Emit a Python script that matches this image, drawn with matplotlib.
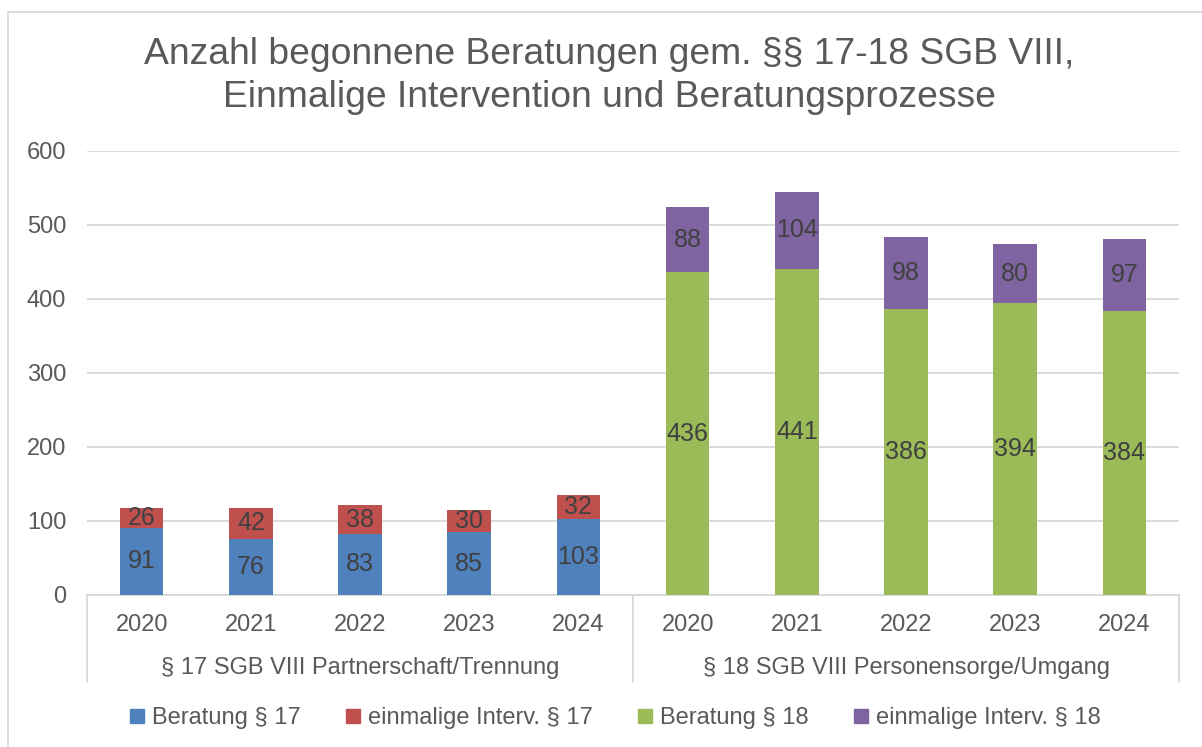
import matplotlib
matplotlib.use("Agg")
import matplotlib.pyplot as plt
from matplotlib.lines import Line2D
import matplotlib.transforms as mtransforms

plt.rcParams['font.family'] = ['Liberation Sans', 'DejaVu Sans']

# data
years = ["2020", "2021", "2022", "2023", "2024"]
groups = ["§ 17 SGB VIII Partnerschaft/Trennung", "§ 18 SGB VIII Personensorge/Umgang"]
beratung17 = [91, 76, 83, 85, 103]
interv17 = [26, 42, 38, 30, 32]
beratung18 = [436, 441, 386, 394, 384]
interv18 = [88, 104, 98, 80, 97]
series_names = ["Beratung § 17", "einmalige Interv. § 17", "Beratung § 18", "einmalige Interv. § 18"]
title_lines = ["Anzahl begonnene Beratungen gem. §§ 17-18 SGB VIII,",
               "Einmalige Intervention und Beratungsprozesse"]
colors = ["#4F81BD", "#C0504D", "#9BBB59", "#8064A2"]

txt = "#595959"
lbl = "#404040"
grid = "#D9D9D9"
fs = 17

fig = plt.figure(figsize=(12.02, 7.47), dpi=100)
ax = fig.add_axes([0.0724, 0.2035, 0.9085, 0.5944])

n = len(years)
x17 = list(range(n))
x18 = [i + n for i in range(n)]
w = 0.40

b1 = ax.bar(x17, beratung17, w, color=colors[0], zorder=3)
b2 = ax.bar(x17, interv17, w, bottom=beratung17, color=colors[1], zorder=3)
b3 = ax.bar(x18, beratung18, w, color=colors[2], zorder=3)
b4 = ax.bar(x18, interv18, w, bottom=beratung18, color=colors[3], zorder=3)

for bars in (b1, b2, b3, b4):
    ax.bar_label(bars, label_type='center', fontsize=18, color=lbl)

ax.set_xlim(-0.5, 2 * n - 0.5)
ax.set_ylim(0, 600)
ax.set_yticks(range(0, 601, 100))
ax.yaxis.grid(True, color=grid, linewidth=1.3, zorder=0)
ax.tick_params(axis='y', length=0, labelsize=fs, labelcolor=txt, pad=15)
ax.set_xticks([])
for s in ("left", "right", "top"):
    ax.spines[s].set_visible(False)
ax.spines["bottom"].set_color(grid)
ax.spines["bottom"].set_linewidth(1.3)

trans = mtransforms.blended_transform_factory(ax.transData, ax.transAxes)
for i, y in enumerate(years * 2):
    ax.text(i, -0.068, y, transform=trans, ha='center', va='center',
            fontsize=fs, color=txt)
for g, label in enumerate(groups):
    ax.text(g * n + (n - 1) / 2, -0.164, label, transform=trans,
            ha='center', va='center', fontsize=fs, color=txt)
for xs in (-0.5, n - 0.5, 2 * n - 0.5):
    ax.add_line(Line2D([xs, xs], [0, -0.196], transform=trans, color=grid,
                       linewidth=1.3, clip_on=False))

fig.text(0.507, 1 - 64 / 747, title_lines[0], ha='center', va='baseline',
         fontsize=26.8, color=txt)
fig.text(0.507, 1 - 107 / 747, title_lines[1], ha='center', va='baseline',
         fontsize=26.8, color=txt)

handles = [Line2D([], [], marker='s', linestyle='none', markersize=10.5,
                  markerfacecolor=c, markeredgecolor=c) for c in colors]
fig.legend(handles, series_names, loc='center', bbox_to_anchor=(0.511, 1 - 718 / 747),
           ncol=4, frameon=False, fontsize=fs, labelcolor=txt,
           handletextpad=0.25, columnspacing=1.8, handlelength=0.8)

# chart border (top and left visible in the crop)
fig.add_artist(Line2D([8 / 1202, 1.0], [1 - 12 / 747] * 2, transform=fig.transFigure,
                      color=grid, linewidth=1.3))
fig.add_artist(Line2D([8 / 1202] * 2, [0.0, 1 - 12 / 747], transform=fig.transFigure,
                      color=grid, linewidth=1.3))

fig.savefig("out.png", dpi=100)
